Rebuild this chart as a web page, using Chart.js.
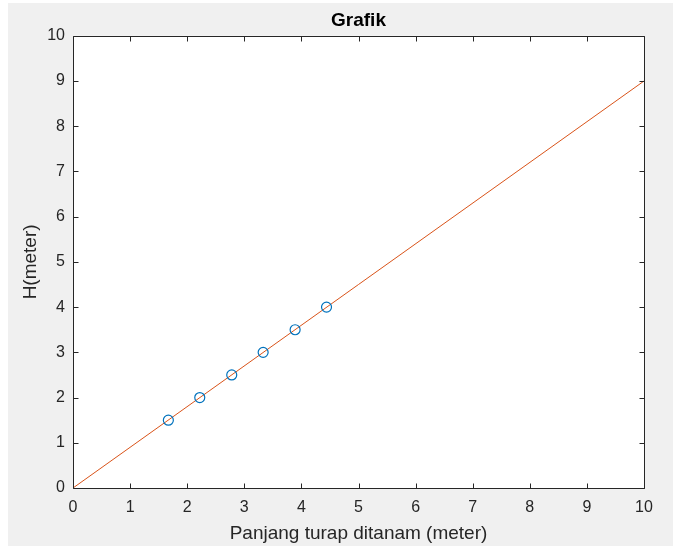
<!DOCTYPE html>
<html>
<head>
<meta charset="utf-8">
<script src="https://cdn.jsdelivr.net/npm/chart.js@4/dist/chart.umd.min.js"></script>
<style>
  html, body { margin: 0; padding: 0; background: #ffffff; }
  canvas { display: block; }
</style>
</head>
<body>
<canvas id="c" width="673" height="546"></canvas>
<script>
// ---- data ----
const pointX = [1.67, 2.22, 2.78, 3.33, 3.89, 4.44];
const pointH = [1.5, 2.0, 2.5, 3.0, 3.5, 4.0];
const lineX = [0, 10];
const lineY = [0, 9];
const xTickValues = [0, 1, 2, 3, 4, 5, 6, 7, 8, 9, 10];
const yTickValues = [0, 1, 2, 3, 4, 5, 6, 7, 8, 9, 10];
const chartTitle = 'Grafik';
const xTitle = 'Panjang turap ditanam (meter)';
const yTitle = 'H(meter)';

const FONT = '"Liberation Sans", Arial, Helvetica, sans-serif';
const AXIS_COLOR = '#262626';

const framePlugin = {
  id: 'frame',
  beforeDraw(chart) {
    const ctx = chart.ctx;
    const a = chart.chartArea;
    ctx.save();
    ctx.fillStyle = '#f0f0f0';
    ctx.fillRect(8, 3, chart.width - 8, chart.height - 3);
    ctx.fillStyle = '#ffffff';
    ctx.fillRect(a.left, a.top, a.right - a.left, a.bottom - a.top);
    ctx.restore();
  },
  afterDraw(chart) {
    const ctx = chart.ctx;
    const a = chart.chartArea;
    const xs = chart.scales.x, ys = chart.scales.y;
    const L = Math.round(a.left) + 0.5, R = Math.round(a.right) + 0.5;
    const T = Math.round(a.top) + 0.5, B = Math.round(a.bottom) + 0.5;
    ctx.save();
    ctx.strokeStyle = AXIS_COLOR;
    ctx.lineWidth = 1;
    ctx.beginPath();
    ctx.rect(L, T, R - L, B - T);
    const tl = 5;
    xs.ticks.forEach(t => {
      const px = Math.round(xs.getPixelForValue(t.value)) + 0.5;
      ctx.moveTo(px, B); ctx.lineTo(px, B - tl);
      ctx.moveTo(px, T); ctx.lineTo(px, T + tl);
    });
    ys.ticks.forEach(t => {
      const py = Math.round(ys.getPixelForValue(t.value)) + 0.5;
      ctx.moveTo(L, py); ctx.lineTo(L + tl, py);
      ctx.moveTo(R, py); ctx.lineTo(R - tl, py);
    });
    ctx.stroke();
    ctx.restore();
  }
};

new Chart(document.getElementById('c'), {
  type: 'scatter',
  data: {
    datasets: [
      {
        type: 'line',
        data: lineX.map((x, i) => ({ x: x, y: lineY[i] })),
        borderColor: '#D95319',
        borderWidth: 1,
        pointRadius: 0,
        fill: false,
        tension: 0,
        order: 2
      },
      {
        type: 'scatter',
        data: pointX.map((x, i) => ({ x: x, y: pointH[i] })),
        borderColor: '#0072BD',
        backgroundColor: 'rgba(0,0,0,0)',
        borderWidth: 1.2,
        pointRadius: 5,
        pointStyle: 'circle',
        order: 1
      }
    ]
  },
  options: {
    responsive: false,
    animation: false,
    devicePixelRatio: 1,
    layout: { padding: { left: 8, top: 3, right: 29, bottom: 0 } },
    plugins: {
      legend: { display: false },
      tooltip: { enabled: false },
      title: {
        display: true,
        text: chartTitle,
        fullSize: false,
        color: '#000000',
        font: { family: FONT, size: 19, weight: 'bold' },
        padding: { top: 6, bottom: 4 }
      }
    },
    scales: {
      x: {
        type: 'linear',
        min: 0, max: 10,
        afterBuildTicks: s => { s.ticks = xTickValues.map(v => ({ value: v })); },
        afterFit: s => { s.height = 58; },
        grid: { display: false, drawTicks: false },
        border: { display: false },
        ticks: {
          color: AXIS_COLOR,
          font: { family: FONT, size: 16 },
          padding: 10,
          maxRotation: 0,
          autoSkip: false
        },
        title: {
          display: true,
          text: xTitle,
          color: AXIS_COLOR,
          font: { family: FONT, size: 19 },
          padding: { top: 0, bottom: 1 }
        }
      },
      y: {
        type: 'linear',
        min: 0, max: 10,
        afterBuildTicks: s => { s.ticks = yTickValues.map(v => ({ value: v })); },
        afterFit: s => { s.width = 65; },
        grid: { display: false, drawTicks: false },
        border: { display: false },
        ticks: {
          color: AXIS_COLOR,
          font: { family: FONT, size: 16 },
          padding: 8,
          autoSkip: false
        },
        title: {
          display: true,
          text: yTitle,
          color: AXIS_COLOR,
          font: { family: FONT, size: 19 },
          padding: { top: 11, bottom: 0 }
        }
      }
    }
  },
  plugins: [framePlugin]
});
</script>
</body>
</html>
